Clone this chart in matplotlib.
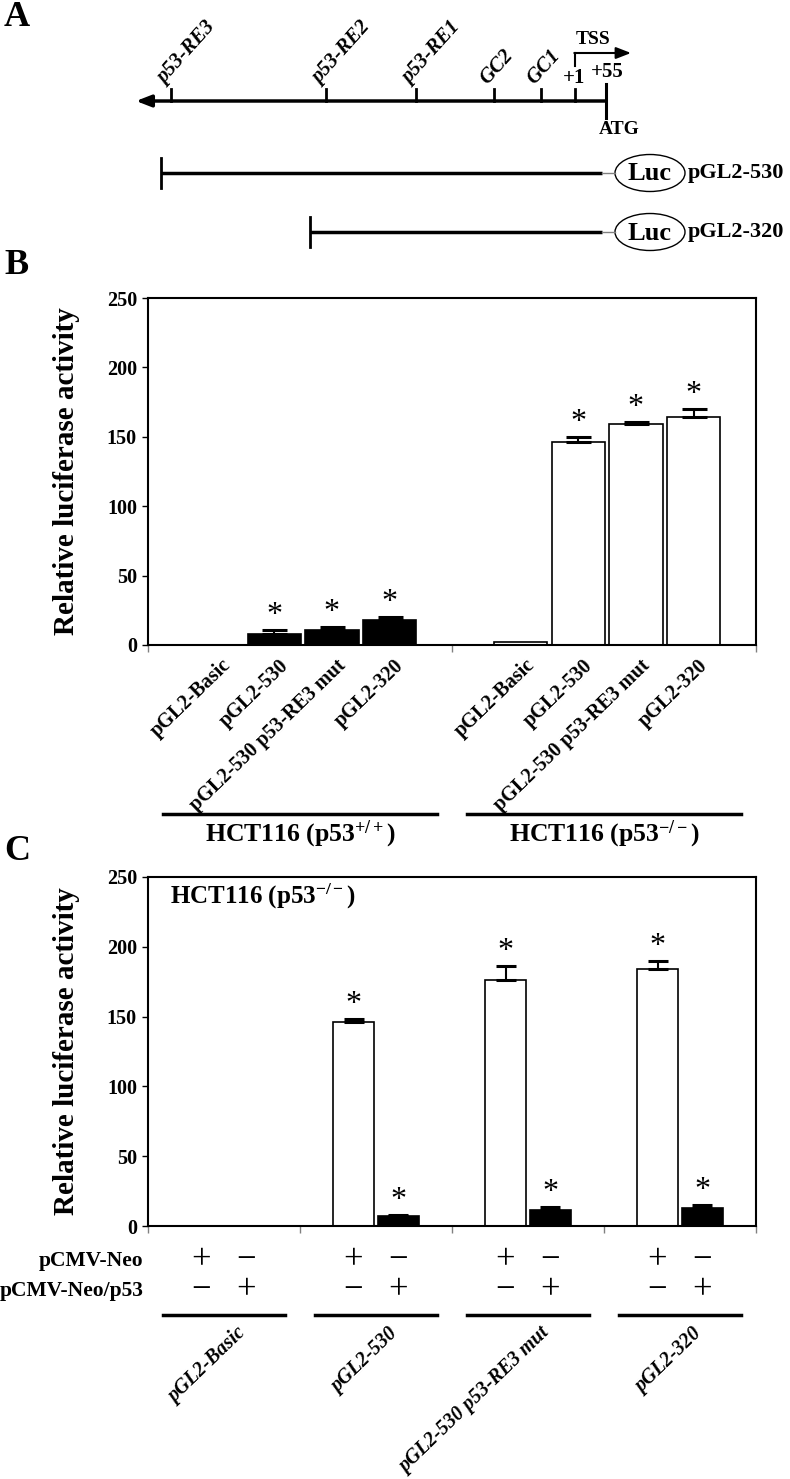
import numpy as np
import matplotlib
matplotlib.use('Agg')
import matplotlib.pyplot as plt
import matplotlib.transforms as mtransforms
from matplotlib.patches import Ellipse

plt.rcParams['font.family'] = ['Liberation Serif', 'DejaVu Serif']
plt.rcParams['font.weight'] = 'bold'
plt.rcParams['mathtext.fontset'] = 'custom'
plt.rcParams['mathtext.rm'] = 'Liberation Serif:bold'
plt.rcParams['mathtext.bf'] = 'Liberation Serif:bold'
plt.rcParams['mathtext.it'] = 'Liberation Serif:bold:italic'

# ---- data ----
constructs = ['pGL2-Basic', 'pGL2-530', 'pGL2-530 p53-RE3 mut', 'pGL2-320']
cell_lines = [r'HCT116 (p53$^{+/+}$)', r'HCT116 (p53$^{-/-}$)']

# panel B: rows = cell line, cols = construct
b_mean = [[0, 8.0, 10.8, 18.0],
          [2.2, 146.5, 159.0, 164.0]]
b_err = [[0, 2.5, 2.5, 2.0],
         [0, 3.0, 1.8, 6.3]]
b_star = [[0, 1, 1, 1],
          [0, 1, 1, 1]]

# panel C: per construct, pCMV-Neo vs pCMV-Neo/p53
c_neo_mean = [0, 146.0, 176.0, 184.0]
c_neo_err = [0, 2.5, 10.0, 5.8]
c_p53_mean = [0, 7.3, 11.6, 12.8]
c_p53_err = [0, 0.8, 1.8, 2.6]
c_star_neo = [0, 1, 1, 1]
c_star_p53 = [0, 1, 1, 1]
c_neo_sign = ['+', '−']   # pCMV-Neo row: (neo bar, p53 bar)
c_p53_sign = ['−', '+']   # pCMV-Neo/p53 row

# panel A schematic
sites = ['p53-RE3', 'p53-RE2', 'p53-RE1', 'GC2', 'GC1']
site_x = [171, 326, 416, 494, 541]
reporters = ['pGL2-530', 'pGL2-320']
reporter_start = [161, 310]

yticks = [0, 50, 100, 150, 200, 250]

fig = plt.figure(figsize=(7.9, 14.79), dpi=100)
W, H = 790, 1479


def ax_rect(left, top, right, bottom):
    return [left / W, 1 - bottom / H, (right - left) / W, (bottom - top) / H]


def style_axes(ax):
    for s in ax.spines.values():
        s.set_linewidth(1.5)
    ax.set_ylim(0, 250)
    ax.set_yticks(yticks)
    ax.tick_params(axis='y', direction='out', length=4, width=1, labelsize=14.5, pad=4)
    ax.set_ylabel('Relative luciferase activity', fontsize=21, fontweight='bold')
    ax.yaxis.set_label_coords(-0.112, 0.5)
    ax.set_xticks([])


def add_err_star(ax, x, mean, err, star, capsize):
    x = np.asarray(x); mean = np.asarray(mean); err = np.asarray(err)
    m = err > 0
    ax.errorbar(x[m], mean[m], yerr=[np.zeros(m.sum()), err[m]], fmt='none',
                ecolor='k', elinewidth=1.5, capsize=capsize, capthick=2.2, zorder=3)
    for xi, yi, ei, s in zip(x, mean, err, star):
        if s:
            ax.annotate('*', (xi, yi + ei), xytext=(0, 0), textcoords='offset points',
                        ha='center', va='bottom', fontsize=23, fontweight='normal')


# ---- panel B ----
axB = fig.add_axes(ax_rect(148, 298, 756, 645))
style_axes(axB)
axB.set_xlim(-0.5, 1.5)
axB.set_xticks([-0.5, 0.5, 1.5], minor=True)
axB.tick_params(axis='x', which='minor', direction='out', length=5, width=1, color='gray')
bw = 0.175
offs = [(i - 1.5) * 0.19 + 0.01 for i in range(4)]
trB = mtransforms.blended_transform_factory(axB.transData, axB.transAxes)
for g in range(2):
    xs = [g + o for o in offs]
    fc = 'black' if g == 0 else 'white'
    axB.bar(xs, b_mean[g], width=bw, color=fc, edgecolor='black', linewidth=1.2, zorder=2)
    add_err_star(axB, xs, b_mean[g], b_err[g], b_star[g], capsize=9)
    for xi, lab in zip(xs, constructs):
        axB.text(xi + 0.015, -0.03, lab, transform=trB, rotation=44, rotation_mode='anchor',
                 ha='right', va='top', fontsize=14.5, fontweight='bold')
    axB.plot([g - 0.45, g + 0.45], [-0.487, -0.487], transform=trB, color='k', lw=2.5,
             clip_on=False)
    axB.text(g, -0.545, cell_lines[g], transform=trB, ha='center', va='center', fontsize=18.5)

# ---- panel C ----
axC = fig.add_axes(ax_rect(148, 877, 756, 1226))
style_axes(axC)
axC.set_xlim(-0.5, 3.5)
axC.set_xticks([-0.5, 0.5, 1.5, 2.5, 3.5], minor=True)
axC.tick_params(axis='x', which='minor', direction='out', length=5, width=1, color='gray')
cw = 0.275
cx = np.arange(4)
xn = cx - 0.148
xp = cx + 0.148
axC.bar(xn, c_neo_mean, width=cw, color='white', edgecolor='black', linewidth=1.2, zorder=2)
axC.bar(xp, c_p53_mean, width=cw, color='black', edgecolor='black', linewidth=1.2, zorder=2)
add_err_star(axC, xn, c_neo_mean, c_neo_err, c_star_neo, capsize=7.5)
add_err_star(axC, xp, c_p53_mean, c_p53_err, c_star_p53, capsize=7.5)
axC.text(0.036, 0.943, r'HCT116 (p53$^{-/-}$)', transform=axC.transAxes, ha='left',
         va='center', fontsize=18)
trC = mtransforms.blended_transform_factory(axC.transData, axC.transAxes)
axC.text(-0.008, -0.100, 'pCMV-Neo', transform=axC.transAxes, ha='right', va='center', fontsize=15.5)
axC.text(-0.008, -0.186, 'pCMV-Neo/p53', transform=axC.transAxes, ha='right', va='center', fontsize=15.5)
for i in range(4):
    for xx, sn, sp in zip([xn[i], xp[i]], c_neo_sign, c_p53_sign):
        axC.text(xx, -0.100, sn, transform=trC, ha='center', va='center',
                 fontsize=25, fontweight='normal')
        axC.text(xx, -0.186, sp, transform=trC, ha='center', va='center',
                 fontsize=25, fontweight='normal')
    axC.plot([cx[i] - 0.4, cx[i] + 0.4], [-0.255, -0.255], transform=trC, color='k', lw=2.5,
             clip_on=False)
    axC.text(cx[i] + 0.08, -0.28, constructs[i], transform=trC, rotation=44,
             rotation_mode='anchor', ha='right', va='top', fontsize=14.5, style='italic')

# ---- overlay: panel A and letters ----
ov = fig.add_axes([0, 0, 1, 1])
ov.set_xlim(0, W)
ov.set_ylim(H, 0)
ov.axis('off')
for lab, y in zip(['A', 'B', 'C'], [17, 265, 852]):
    ov.text(4, y, lab, ha='left', va='center', fontsize=26)

line_y = 101
ov.annotate('', xy=(136, line_y), xytext=(606, line_y),
            arrowprops=dict(arrowstyle='-|>,head_length=0.9,head_width=0.35', lw=2.5,
                            color='k', shrinkA=0, shrinkB=0))
for lab, x in zip(sites, site_x):
    ov.plot([x, x], [line_y, line_y - 12], color='k', lw=2)
    ov.text(x - 3, line_y - 13, lab, rotation=48, rotation_mode='anchor', ha='left',
            va='bottom', fontsize=15, style='italic')
# +1 / +55 / TSS / ATG
ov.plot([575, 575], [line_y, line_y - 12], color='k', lw=2)
ov.plot([606, 606], [84, 118], color='k', lw=2.2)
ov.text(574, 78, '+1', ha='center', va='center', fontsize=15)
ov.text(607, 72, '+55', ha='center', va='center', fontsize=15)
ov.text(619, 130, 'ATG', ha='center', va='center', fontsize=14)
ov.plot([575, 575], [66, 53], color='k', lw=1.5)
ov.annotate('', xy=(631, 53), xytext=(574.3, 53),
            arrowprops=dict(arrowstyle='-|>,head_length=0.9,head_width=0.35', lw=1.5,
                            color='k', shrinkA=0, shrinkB=0))
ov.text(593, 40, 'TSS', ha='center', va='center', fontsize=14)

for lab, x0, y in zip(reporters, reporter_start, [173, 232]):
    ov.plot([x0, 602], [y, y], color='k', lw=2.5, solid_capstyle='butt')
    ov.plot([602, 615], [y, y], color='gray', lw=1)
    ov.plot([x0, x0], [y - 15, y + 15], color='k', lw=2)
    ov.add_patch(Ellipse((650, y), 70, 37, facecolor='white', edgecolor='k', lw=1))
    ov.text(650, y + 1, 'Luc', ha='center', va='center', fontsize=19)
    ov.text(688, y, lab, ha='left', va='center', fontsize=16)

fig.savefig('out.png', dpi=100)
